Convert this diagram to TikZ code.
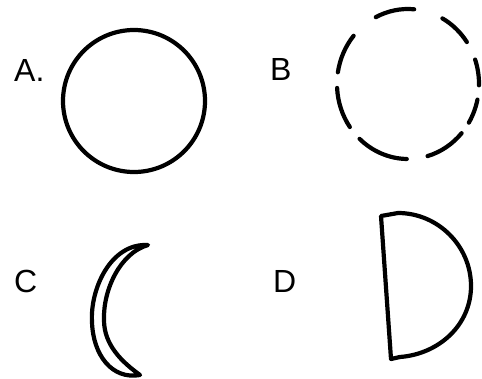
\documentclass[tikz,border=0pt]{standalone}
\usepackage{fontspec}
\setmainfont{Liberation Sans}
\begin{document}
\begin{tikzpicture}[x=1pt,y=-1pt,
  inkline/.style={line width=4.2pt, line cap=round, line join=round, draw=black},
  lbl/.style={anchor=base west, inner sep=0pt, font=\fontsize{32}{36}\selectfont}]
\useasboundingbox (0,0) rectangle (482,378);
% labels
\node[lbl] (la) at (14,81) {A.};
\node[lbl] (lb) at (270,80) {B};
\node[lbl] (lc) at (14,292) {C};
\node[lbl] (ld) at (273,292) {D};
% A: circle
\draw[inkline] (134,101) circle[radius=71];
% B: dashed circle made of separate strokes
\foreach \s/\e in {117/85, 61/34, 19/-1, -12/-31, -41/-74, -91/-133, -145/-177, 171/140}{
  \draw[inkline] (408,84) ++({-\s}:71 and 75) arc[start angle={-\s}, end angle={-\e}, x radius=71, y radius=75];
}
% C: crescent
\draw[inkline] (148,245) .. controls (110,243) and (90,290) .. (92,322)
  .. controls (93,355) and (112,380) .. (140,375)
  .. controls (122,362) and (104,345) .. (104,320)
  .. controls (103,290) and (120,253) .. cycle;
% D: half disc
\draw[inkline] (381,216) -- (391,359) -- (400,357)
  .. controls (439,354) and (471,325) .. (471,286)
  .. controls (471,246) and (438,213) .. (398,213) -- cycle;
\end{tikzpicture}
\end{document}
